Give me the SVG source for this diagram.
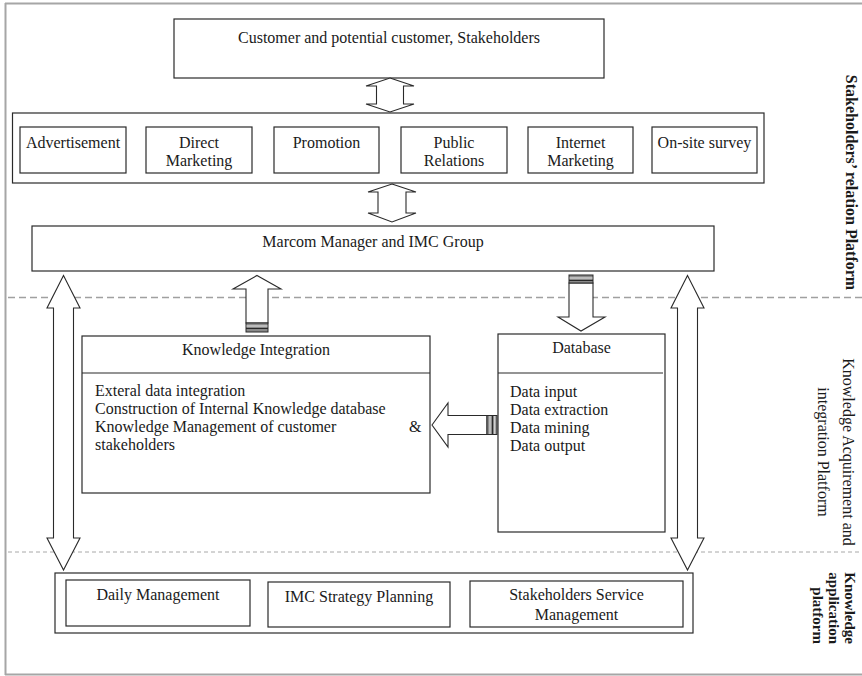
<svg xmlns="http://www.w3.org/2000/svg" width="862" height="676" viewBox="0 0 862 676">
<style>
  .box{fill:#fff;stroke:#2a2a2a;stroke-width:1.2}
  .t{font-family:"Liberation Serif","Times New Roman",serif;font-size:16px;fill:#1a1a1a}
  .c{text-anchor:middle}
  .b{font-weight:bold}
  .arr{fill:#fff;stroke:#2a2a2a;stroke-width:1.1;stroke-linejoin:miter}
  .cap{fill:#8a8a8a;stroke:#2a2a2a;stroke-width:1}
  .capl{stroke:#eee;stroke-width:1}
  .frame{stroke:#a6a6a6;stroke-width:2;fill:none}
  .dash{stroke:#a0a0a0;stroke-width:1.3;stroke-dasharray:7 4;fill:none}
  .dash2{stroke:#a8a8a8;stroke-width:1;stroke-dasharray:4 3;fill:none}
</style>
<rect x="0" y="0" width="862" height="676" fill="#fff"/>
<g id="frame">
  <line class="frame" x1="5" y1="3.5" x2="862" y2="3.5"/>
  <line class="frame" x1="5.5" y1="3" x2="5.5" y2="675"/>
  <line class="frame" x1="5" y1="674.5" x2="862" y2="674.5"/>
  <line class="dash" x1="8" y1="297.5" x2="862" y2="297.5"/>
  <line class="dash2" x1="8" y1="552" x2="862" y2="552"/>
</g>

<g id="customers">
  <rect class="box" x="174" y="19" width="430" height="59"/>
  <text class="t c" x="389" y="43">Customer and potential customer, Stakeholders</text>
</g>

<g id="channels">
  <rect class="box" x="12.5" y="113" width="751.5" height="70"/>
  <g id="advertisement">
    <rect class="box" x="20" y="127" width="106" height="46"/>
    <text class="t c" x="73" y="148">Advertisement</text>
  </g>
  <g id="direct-marketing">
    <rect class="box" x="146" y="127" width="106" height="46"/>
    <text class="t c" x="199" y="148">Direct</text>
    <text class="t c" x="199" y="166">Marketing</text>
  </g>
  <g id="promotion">
    <rect class="box" x="274" y="127" width="105" height="46"/>
    <text class="t c" x="326.5" y="148">Promotion</text>
  </g>
  <g id="public-relations">
    <rect class="box" x="401" y="127" width="106" height="46"/>
    <text class="t c" x="454" y="148">Public</text>
    <text class="t c" x="454" y="166">Relations</text>
  </g>
  <g id="internet-marketing">
    <rect class="box" x="528" y="127" width="105" height="46"/>
    <text class="t c" x="580.5" y="148">Internet</text>
    <text class="t c" x="580.5" y="166">Marketing</text>
  </g>
  <g id="onsite-survey">
    <rect class="box" x="652" y="127" width="105" height="46"/>
    <text class="t c" x="704.5" y="148">On-site survey</text>
  </g>
</g>

<g id="marcom">
  <rect class="box" x="32" y="226" width="682" height="45"/>
  <text class="t c" x="373" y="247">Marcom Manager and IMC Group</text>
</g>

<g id="knowledge-integration">
  <rect class="box" x="82" y="336" width="348" height="157"/>
  <line class="box" x1="82" y1="373" x2="430" y2="373"/>
  <text class="t c" x="256" y="355">Knowledge Integration</text>
  <text class="t" x="95" y="396">Exteral data integration</text>
  <text class="t" x="95" y="414">Construction of Internal Knowledge database</text>
  <text class="t" x="95" y="432">Knowledge Management of customer</text>
  <text class="t" x="409" y="432">&amp;</text>
  <text class="t" x="95" y="450">stakeholders</text>
</g>

<g id="database">
  <rect class="box" x="498" y="334" width="167" height="198"/>
  <line class="box" x1="498" y1="373" x2="663" y2="373"/>
  <text class="t c" x="581.5" y="353">Database</text>
  <text class="t" x="510" y="397">Data input</text>
  <text class="t" x="510" y="415">Data extraction</text>
  <text class="t" x="510" y="433">Data mining</text>
  <text class="t" x="510" y="451">Data output</text>
</g>

<g id="application">
  <rect class="box" x="55" y="573" width="638" height="60"/>
  <g id="daily-management">
    <rect class="box" x="66" y="580" width="184" height="46"/>
    <text class="t c" x="158" y="600">Daily Management</text>
  </g>
  <g id="imc-strategy">
    <rect class="box" x="268" y="582" width="182" height="45"/>
    <text class="t c" x="359" y="602">IMC Strategy Planning</text>
  </g>
  <g id="stakeholders-service">
    <rect class="box" x="470" y="581" width="213" height="46"/>
    <text class="t c" x="576.5" y="600">Stakeholders Service</text>
    <text class="t c" x="576.5" y="620">Management</text>
  </g>
</g>

<g id="labels">
  <text class="t c b" transform="translate(846,182.5) rotate(90)">Stakeholders’ relation Platform</text>
  <text class="t c" transform="translate(843,452) rotate(90)">Knowledge Acquirement and</text>
  <text class="t c" transform="translate(818,452) rotate(90)">integration Platform</text>
  <text class="t b" style="font-size:15px;text-anchor:end" transform="translate(845,644) rotate(90)">Knowledge</text>
  <text class="t b" style="font-size:15px;text-anchor:end" transform="translate(829,644) rotate(90)">application</text>
  <text class="t b" style="font-size:15px;text-anchor:end" transform="translate(813,644) rotate(90)">platform</text>
</g>

<g id="connectors">
  <polygon class="arr" points="390,78 414,86 403.5,86 403.5,104 414,104 390,112 366,104 376.5,104 376.5,86 366,86"/>
  <polygon class="arr" points="392,184 416,192 406,192 406,213 416,213 392,222 368,213 378,213 378,192 368,192"/>
  <polygon class="arr" points="63.5,275.5 80,308 73.5,308 73.5,538 80,538 63.5,570 47,538 53.5,538 53.5,308 47,308"/>
  <polygon class="arr" points="687.5,275.5 704,308 697.5,308 697.5,538 704,538 687.5,570 671,538 677.5,538 677.5,308 671,308"/>
  <g id="ki-to-marcom">
    <polygon class="arr" points="257,275.5 281,289 268,289 268,323 246,323 246,289 233,289"/>
    <rect class="cap" x="246" y="323" width="22" height="9"/>
    <line class="capl" x1="246.5" y1="326" x2="267.5" y2="326"/>
    <line x1="246" y1="328.5" x2="268" y2="328.5" stroke="#2a2a2a" stroke-width="1"/>
  </g>
  <g id="marcom-to-db">
    <polygon class="arr" points="569,283 593,283 593,317 605,317 581,331 558,317 569,317"/>
    <rect class="cap" x="569" y="275" width="24" height="8"/>
    <line class="capl" x1="569.5" y1="278" x2="592.5" y2="278"/>
    <line x1="569" y1="280.5" x2="593" y2="280.5" stroke="#2a2a2a" stroke-width="1"/>
  </g>
  <g id="db-to-ki">
    <polygon class="arr" points="432,425 448,403 448,415.5 487,415.5 487,434.5 448,434.5 448,447"/>
    <rect class="cap" x="487" y="415.5" width="10" height="19"/>
    <line class="capl" x1="490" y1="416" x2="490" y2="434"/>
    <line x1="492.5" y1="415.5" x2="492.5" y2="434.5" stroke="#2a2a2a" stroke-width="1"/>
    <line class="capl" x1="494.8" y1="416" x2="494.8" y2="434"/>
  </g>
</g>
</svg>
